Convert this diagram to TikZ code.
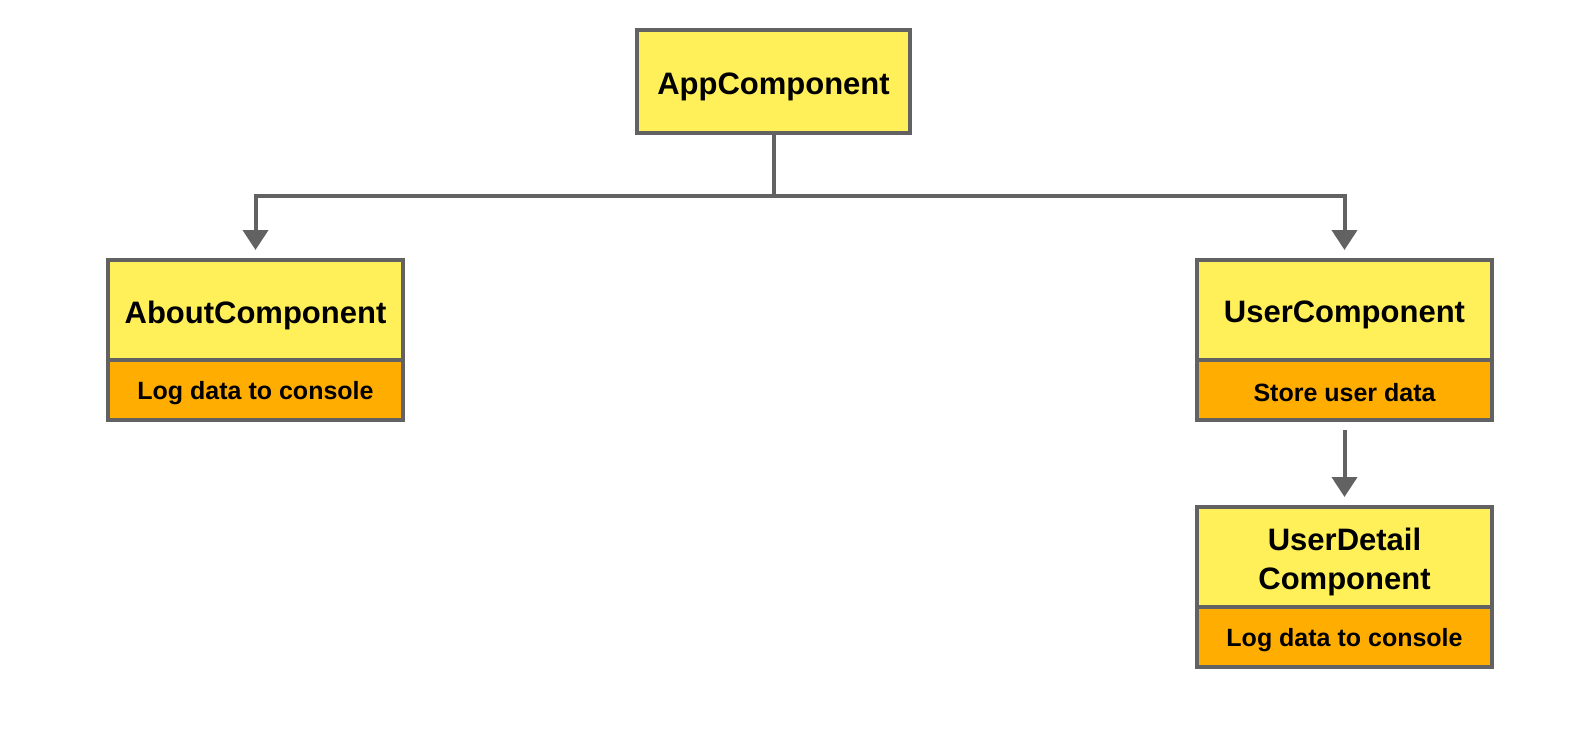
\documentclass[tikz,border=0pt]{standalone}
\usepackage{fontspec}
\setmainfont{Liberation Sans}
\usetikzlibrary{arrows.meta}
\definecolor{boxline}{HTML}{626262}
\definecolor{compyellow}{HTML}{FFEF58}
\definecolor{taskorange}{HTML}{FFAD00}
\newcommand{\dnb}[1]{\raisebox{-5pt}[\height][\depth]{#1}}
\newcommand{\dns}[1]{\raisebox{-3pt}[\height][\depth]{#1}}
\begin{document}
\begin{tikzpicture}[x=1pt,y=-1pt,
  box/.style={draw=boxline,line width=4pt,inner sep=0pt,align=center,font=\bfseries},
  comp/.style={box,fill=compyellow,minimum width=295pt,minimum height=100pt,font=\bfseries\fontsize{31}{39}\selectfont},
  task/.style={box,fill=taskorange,minimum width=295pt,minimum height=60pt,font=\bfseries\fontsize{25}{30}\selectfont},
  conn/.style={draw=boxline,line width=4pt},
  arr/.style={conn,-{Triangle[width=25pt,length=20pt]},shorten >=8pt}]
\useasboundingbox (0,0) rectangle (1588,732);
\node[comp,minimum width=273pt,minimum height=103pt] (app) at (773.5,81.5) {\dnb{AppComponent}};
\node[comp] (about) at (255.5,310) {\dnb{AboutComponent}};
\node[task] (aboutlog) at (255.5,390) {\dns{Log data to console}};
\node[comp] (user) at (1344.5,310) {\dnb{UserComponent}};
\node[task] (userstore) at (1344.5,390) {\dns{Store user data}};
\node[comp] (detail) at (1344.5,557) {\dnb{\begin{tabular}{@{}c@{}}UserDetail\\Component\end{tabular}}};
\node[task] (detaillog) at (1344.5,637) {\dns{Log data to console}};
\coordinate (split) at (773.5,196);
\draw[conn] (app.south) -- (split);
\draw[arr] (split) -| (about.north);
\draw[arr] (split) -| (user.north);
\draw[arr,shorten <=8pt] (userstore.south) -- (detail.north);
\end{tikzpicture}
\end{document}
